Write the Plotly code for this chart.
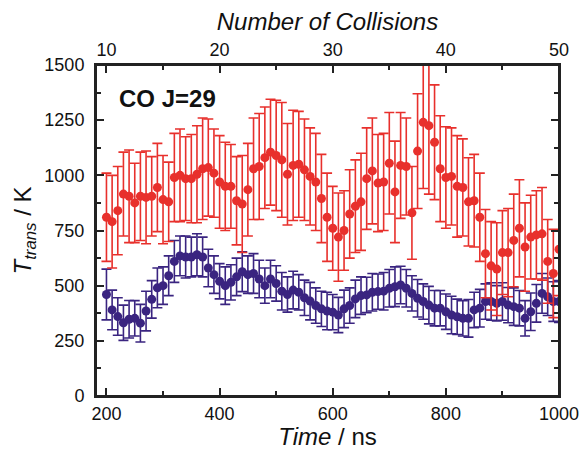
import plotly.graph_objects as go

# ---------------- data ----------------
time_ns = list(range(200, 1001, 10))

red_T = [810, 790, 840, 915, 905, 875, 905, 900, 905, 945,
         890, 880, 990, 1000, 985, 985, 1005, 1030, 1035, 1010,
         970, 950, 950, 885, 870, 935, 1030, 1040, 1080, 1105,
         1090, 1070, 1005, 1045, 1050, 1025, 995, 970, 895, 810,
         760, 720, 750, 825, 860, 880, 985, 1020, 965, 970,
         1055, 925, 1045, 1040, 830, 1110, 1240, 1225, 1150, 1030,
         990, 995, 950, 945, 880, 885, 810, 645, 590, 575,
         650, 650, 705, 760, 675, 720, 730, 735, 610, 555,
         665]
red_err = [200, 210, 200, 190, 210, 180, 200, 210, 180, 200,
           200, 180, 200, 210, 190, 200, 220, 230, 220, 200,
           210, 200, 190, 200, 220, 210, 230, 240, 230, 240,
           250, 260, 230, 250, 240, 230, 220, 220, 200, 200,
           190, 200, 180, 200, 210, 220, 230, 240, 220, 220,
           230, 230, 240, 220, 210, 260, 300, 310, 260, 240,
           230, 220, 230, 220, 200, 210, 200, 200, 200, 210,
           190, 200, 210, 220, 200, 190, 200, 210, 190, 200,
           210]

blue_T = [460, 390, 360, 332, 348, 352, 330, 385, 438, 490,
          500, 545, 610, 635, 630, 630, 640, 630, 580, 550,
          520, 500, 515, 540, 563, 550, 555, 530, 500, 530,
          510, 475, 460, 480, 470, 445, 430, 410, 395, 385,
          380, 367, 395, 410, 440, 455, 458, 470, 473, 475,
          488, 495, 503, 488, 465, 443, 428, 412, 398, 398,
          382, 367, 359, 352, 352, 390, 398, 428, 428, 420,
          428, 412, 405, 398, 352, 382, 420, 465, 450, 428,
          428]
blue_err = [115, 90, 85, 80, 85, 80, 85, 90, 85, 90,
            85, 90, 95, 90, 95, 90, 95, 90, 85, 85,
            80, 85, 80, 85, 90, 85, 90, 85, 80, 85,
            80, 85, 80, 85, 80, 80, 85, 80, 80, 85,
            80, 80, 85, 80, 85, 85, 80, 85, 80, 85,
            85, 90, 85, 85, 80, 85, 80, 85, 80, 80,
            80, 85, 80, 80, 85, 80, 85, 80, 85, 80,
            85, 80, 85, 80, 80, 85, 85, 90, 85, 90,
            95]

time_ticks = [200, 400, 600, 800, 1000]
time_minor = [300, 500, 700, 900]
collision_ticks = [10, 20, 30, 40, 50]
collision_minor = [15, 25, 35, 45]
temp_ticks = [0, 250, 500, 750, 1000, 1250, 1500]
temp_minor = [125, 375, 625, 875, 1125, 1375]

# ---------------- style ----------------
RED = "#e8302c"
BLUE = "#3a2480"
AX = "#222222"
FONT = "Liberation Sans, Arial, sans-serif"
x_lo, x_hi = 181.5, 1000

fig = go.Figure()
fig.add_trace(go.Scatter(
    x=time_ns, y=blue_T, mode="markers",
    marker=dict(color=BLUE, size=9),
    error_y=dict(type="data", array=blue_err, color=BLUE, thickness=1.6, width=5),
    showlegend=False, hoverinfo="skip"))
fig.add_trace(go.Scatter(
    x=time_ns, y=red_T, mode="markers",
    marker=dict(color=RED, size=9),
    error_y=dict(type="data", array=red_err, color=RED, thickness=1.6, width=5),
    showlegend=False, hoverinfo="skip"))
# helper trace so that the top (collision) axis is drawn
fig.add_trace(go.Scatter(x=collision_ticks, y=[None] * len(collision_ticks),
                         xaxis="x2", yaxis="y", mode="markers",
                         showlegend=False, hoverinfo="skip"))

axis_common = dict(showline=True, linecolor=AX, linewidth=2, ticks="inside",
                   ticklen=8, tickwidth=1.6, tickcolor=AX, showgrid=False,
                   zeroline=False, automargin=False,
                   tickfont=dict(family=FONT, size=18, color="#111"))

fig.update_layout(
    width=582, height=450,
    margin=dict(l=96, r=23, t=65, b=54),
    paper_bgcolor="white", plot_bgcolor="white",
    font=dict(family=FONT, color="#111"),
    xaxis=dict(range=[x_lo, x_hi], tickvals=time_ticks,
               minor=dict(tickvals=time_minor, ticks="inside", ticklen=5,
                          tickwidth=1.6, tickcolor=AX),
               title=dict(text="<i>Time</i> / ns", font=dict(family=FONT, size=24),
                          standoff=2),
               **axis_common),
    xaxis2=dict(range=[x_lo / 20, x_hi / 20], overlaying="x", side="top",
                tickvals=collision_ticks,
                minor=dict(tickvals=collision_minor, ticks="inside", ticklen=5,
                           tickwidth=1.6, tickcolor=AX),
                title=dict(text="<i>Number of Collisions</i>",
                           font=dict(family=FONT, size=24), standoff=2),
                **axis_common),
    yaxis=dict(range=[0, 1500], tickvals=temp_ticks, mirror="ticks",
               minor=dict(tickvals=temp_minor, ticks="inside", ticklen=5,
                          tickwidth=1.6, tickcolor=AX),
               ticklabelstandoff=6,
               title=dict(text="<i>T</i><sub><i>trans</i></sub> / K",
                          font=dict(family=FONT, size=24), standoff=6),
               **axis_common),
    shapes=[dict(type="rect", xref="paper", yref="paper", x0=0, x1=1, y0=0, y1=1,
                 line=dict(color=AX, width=2), fillcolor="rgba(0,0,0,0)", layer="above")],
    annotations=[dict(text="<b>CO J=29</b>", x=0.045, y=0.90, xref="paper", yref="paper",
                      xanchor="left", yanchor="middle", showarrow=False,
                      font=dict(family=FONT, size=24, color="#111"))],
)

fig.write_html("out.html")
